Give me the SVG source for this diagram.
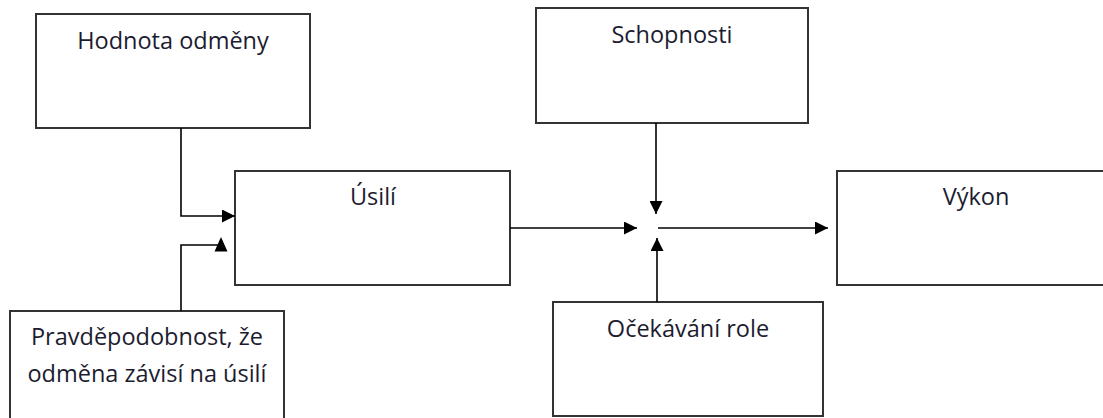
<svg xmlns="http://www.w3.org/2000/svg" width="1103" height="418" viewBox="0 0 1103 418">
<style>
.box{fill:#fff;stroke:#333;stroke-width:2}
.lbl{font-family:"Open Sans","Noto Sans",sans-serif;font-size:23.5px;fill:#1c1c30;text-anchor:middle}
.con{fill:none;stroke:#000;stroke-width:1.6}
</style>
<defs>
<marker id="ah" markerUnits="userSpaceOnUse" markerWidth="14" markerHeight="13" refX="13" refY="6.5" orient="auto">
<path d="M0,0 L13,6.5 L0,13 z" fill="#000"/>
</marker>
</defs>
<rect width="1103" height="418" fill="#fff"/>
<g id="hodnota">
<rect class="box" x="36" y="14" width="274" height="114"/>
<text class="lbl" x="173" y="49">Hodnota odměny</text>
</g>
<g id="usili">
<rect class="box" x="235" y="171" width="275" height="114"/>
<text class="lbl" x="373" y="205">Úsilí</text>
</g>
<g id="schopnosti">
<rect class="box" x="536" y="8" width="272" height="115"/>
<text class="lbl" x="672" y="43">Schopnosti</text>
</g>
<g id="vykon">
<rect class="box" x="837" y="171" width="280" height="114"/>
<text class="lbl" x="976" y="205">Výkon</text>
</g>
<g id="ocekavani">
<rect class="box" x="553" y="302" width="270" height="114"/>
<text class="lbl" x="688" y="337">Očekávání role</text>
</g>
<g id="pravdepodobnost">
<rect class="box" x="10" y="311" width="274" height="120"/>
<text class="lbl" x="147" y="345">Pravděpodobnost, že</text>
<text class="lbl" x="147" y="382">odměna závisí na úsilí</text>
</g>
<g id="connectors">
<path class="con" d="M181,128 V216 H235" marker-end="url(#ah)"/>
<path class="con" d="M181,311 V245 H221"/>
<polygon points="221,237 214.5,251.5 227.5,251.5" fill="#000"/>
<path class="con" d="M510,228 H637" marker-end="url(#ah)"/>
<path class="con" d="M656,123 V214" marker-end="url(#ah)"/>
<path class="con" d="M658,228 H828" marker-end="url(#ah)"/>
<path class="con" d="M657,302 V238" marker-end="url(#ah)"/>
</g>
</svg>
